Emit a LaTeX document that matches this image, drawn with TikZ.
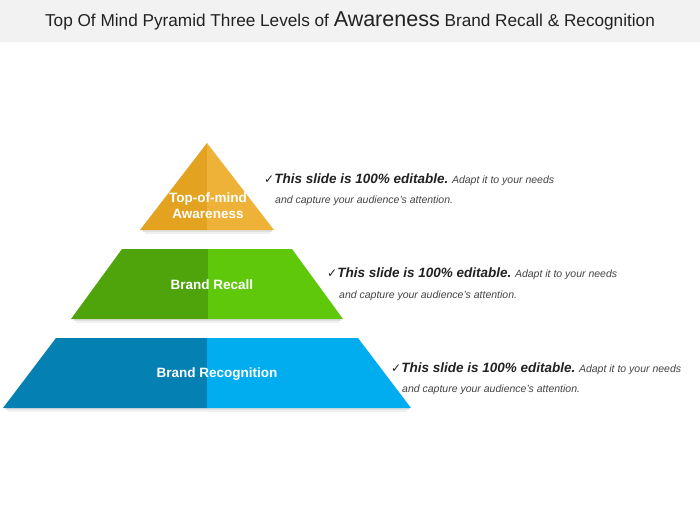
\documentclass[tikz,border=0pt]{standalone}
\usepackage{fontspec}
\setmainfont{Liberation Sans}
\newfontfamily\symfont{DejaVu Sans}
\definecolor{orL}{HTML}{E3A21F}
\definecolor{orR}{HTML}{EFB238}
\definecolor{grL}{HTML}{4EA40A}
\definecolor{grR}{HTML}{60C80B}
\definecolor{blL}{HTML}{0580B2}
\definecolor{blR}{HTML}{02ADEF}
\definecolor{titlebg}{HTML}{F2F2F2}
\definecolor{txtdark}{HTML}{222222}
\definecolor{txtgray}{HTML}{444444}
\tikzset{
  lvlabel/.style={text=white, font=\bfseries\fontsize{13.5}{15}\selectfont, align=center, inner sep=0pt},
  note/.style={anchor=base west, inner sep=0pt, text=txtdark},
  shadowband/.style={fill=black, opacity=0.12},
}
\newcommand{\notetext}{{\symfont\fontsize{12}{14}\selectfont ✓}{\bfseries\itshape\fontsize{13.5}{15}\selectfont This slide is 100\% editable.} {\color{txtgray}\itshape\fontsize{10.5}{12}\selectfont Adapt it to your needs}}
\newcommand{\notesecond}{{\color{txtgray}\itshape\fontsize{10.5}{12}\selectfont and capture your audience's attention.}}
\begin{document}
\begin{tikzpicture}[x=1pt,y=-1pt]
\useasboundingbox (0,0) rectangle (700,525);
\fill[white] (0,0) rectangle (700,525);
% title bar
\fill[titlebg] (0,0) rectangle (700,42);
\node[inner sep=0pt, text=txtdark] (title) at (350,21) {\fontsize{17.2}{19}\selectfont Top Of Mind Pyramid Three Levels of {\fontsize{21.5}{23}\selectfont Awareness} Brand Recall \& Recognition};

% shadows
\foreach \a/\b/\c in {143/272/230, 74/341/319, 6/409/408}{
  \fill[shadowband] (\a,\c) rectangle (\b,\c+2);
  \fill[black,opacity=0.06] (\a+2,\c+2) rectangle (\b-2,\c+4);
}

% triangle (top)
\fill[orL] (207,143) -- (207,230) -- (140,230) -- cycle;
\fill[orR] (207,143) -- (274,230) -- (207,230) -- cycle;
% green trapezoid
\fill[grL] (122,249) -- (208,249) -- (208,319) -- (71,319) -- cycle;
\fill[grR] (208,249) -- (292,249) -- (343,319) -- (208,319) -- cycle;
% blue trapezoid
\fill[blL] (56,338) -- (207,338) -- (207,408) -- (3,408) -- cycle;
\fill[blR] (207,338) -- (358,338) -- (411,408) -- (207,408) -- cycle;

% labels
\node[lvlabel] (top) at (208,206) {Top-of-mind\\[1pt]Awareness};
\node[lvlabel] (recall) at (212,285) {Brand Recall};
\node[lvlabel] (recog) at (217,374) {Brand Recognition};

% notes
\node[note] (n1a) at (264,183) {\notetext};
\node[note] (n1b) at (275,203) {\notesecond};
\node[note] (n2a) at (327,277) {\notetext};
\node[note] (n2b) at (339,298) {\notesecond};
\node[note] (n3a) at (391,372) {\notetext};
\node[note] (n3b) at (402,392) {\notesecond};
\end{tikzpicture}
\end{document}
